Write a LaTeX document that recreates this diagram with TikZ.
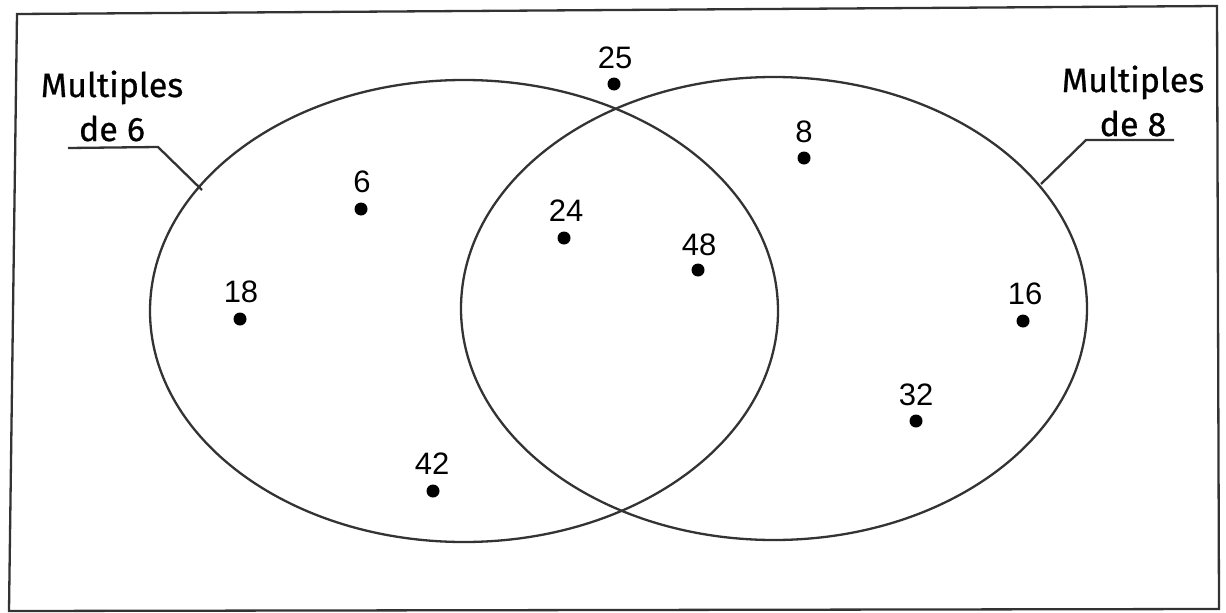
\documentclass[tikz,border=0pt]{standalone}
\usepackage{fontspec}
\setmainfont{Fira Sans}
\newfontfamily\labelfont{Fira Sans}[FakeBold=0.6]
\newfontfamily\digitfont{Liberation Sans}
\begin{document}
\begin{tikzpicture}[x=1pt,y=-1pt,
  line/.style={line width=2.3pt, draw=black!80},
  dotmark/.style={circle, fill=black, inner sep=0pt, minimum size=13pt},
  numlabel/.style={inner sep=0pt, font=\digitfont\fontsize{31}{31}\selectfont},
  setlabel/.style={inner sep=0pt, align=center, font=\labelfont\fontsize{34}{44}\selectfont}]
\useasboundingbox (0,0) rectangle (1226,613);
% frame
\coordinate (f1) at (17,14);
\coordinate (f2) at (1217,6);
\coordinate (f3) at (1219,609);
\coordinate (f4) at (9,611);
\draw[line] (f1) -- (f2) -- (f3) -- (f4) -- cycle;
% ellipses
\draw[line] (464,311) ellipse [x radius=314, y radius=231];
\draw[line] (774,308.5) ellipse [x radius=313, y radius=231.5];
% set labels
\node[setlabel] (L6) at (112,106) {Multiples\\de 6};
\node[setlabel] (L8) at (1133,101) {Multiples\\de 8};
\coordinate (a1) at (68,148);
\coordinate (a2) at (158,147);
\coordinate (a3) at (202,190);
\draw[line] (a1) -- (a2) -- (a3);
\coordinate (b1) at (1174,140);
\coordinate (b2) at (1086,140);
\coordinate (b3) at (1041,184);
\draw[line] (b1) -- (b2) -- (b3);
% elements
\node[dotmark] (d25) at (614,84) {};   \node[numlabel] (n25) at (615,58) {25};
\node[dotmark] (d8)  at (804,158) {};  \node[numlabel] (n8)  at (804,132) {8};
\node[dotmark] (d24) at (564,238) {};  \node[numlabel] (n24) at (566,211) {24};
\node[dotmark] (d48) at (698,270) {};  \node[numlabel] (n48) at (699,245) {48};
\node[dotmark] (d6)  at (361,209) {};  \node[numlabel] (n6)  at (362,182) {6};
\node[dotmark] (d18) at (240,319) {};  \node[numlabel] (n18) at (241,292) {18};
\node[dotmark] (d42) at (433,491) {};  \node[numlabel] (n42) at (432,464) {42};
\node[dotmark] (d16) at (1023,321) {}; \node[numlabel] (n16) at (1025,294) {16};
\node[dotmark] (d32) at (916,421) {};  \node[numlabel] (n32) at (916,395) {32};
\end{tikzpicture}
\end{document}
